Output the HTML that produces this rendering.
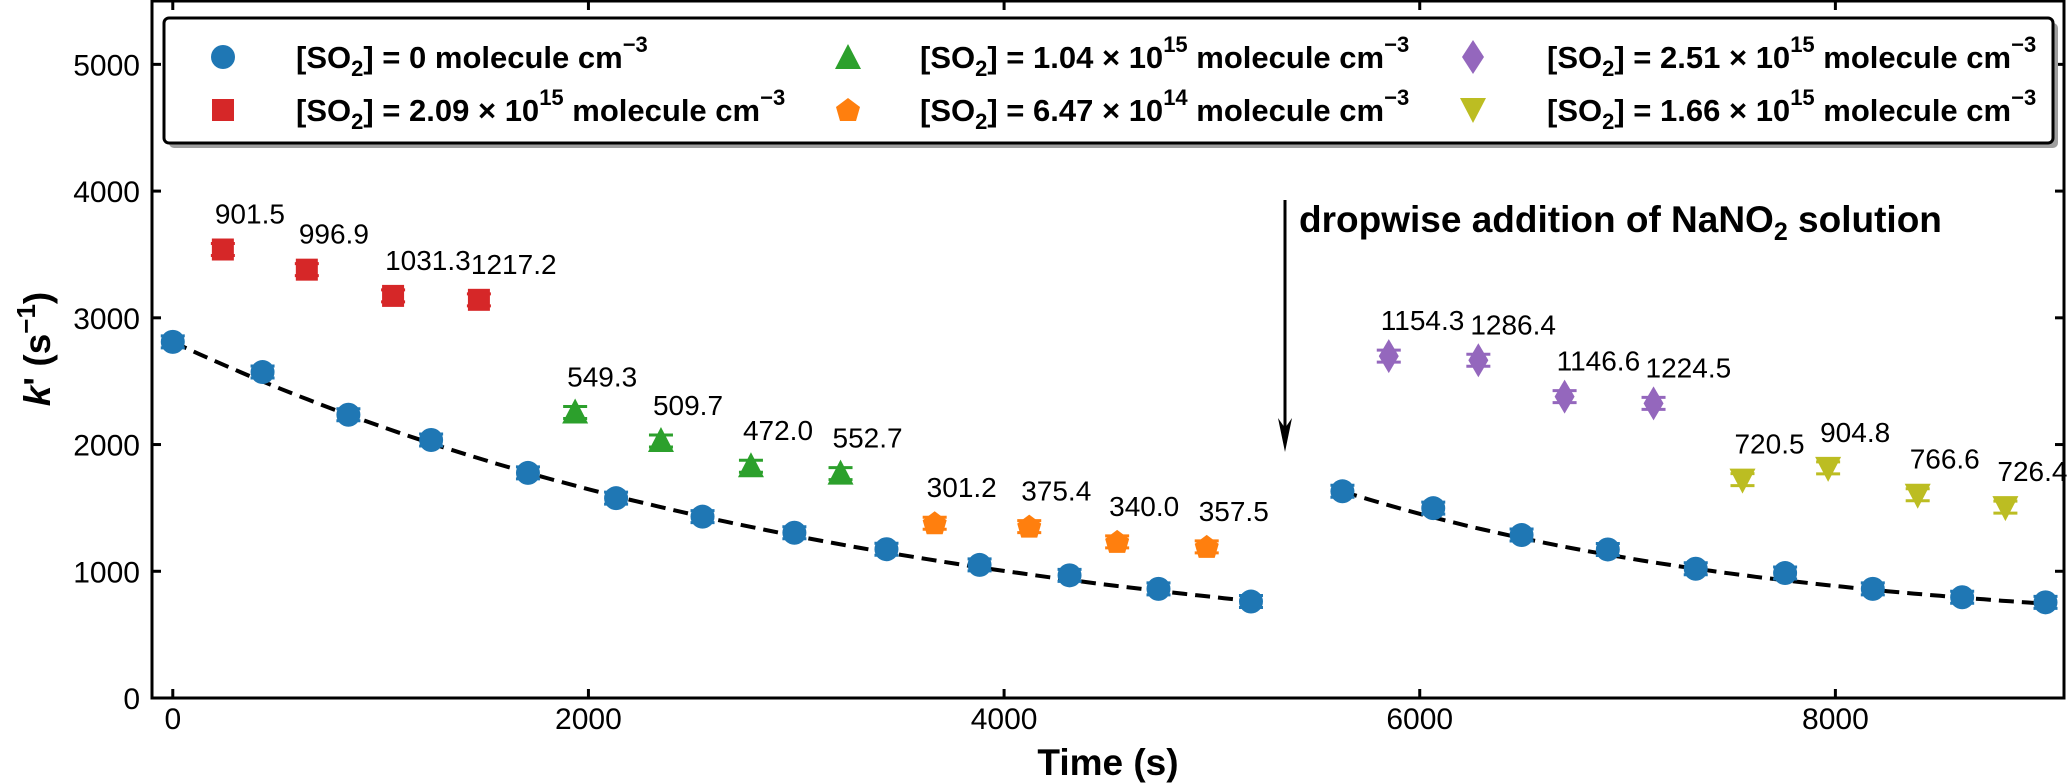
<!DOCTYPE html>
<html><head><meta charset="utf-8">
<style>
html,body{margin:0;padding:0;background:#fff;}
svg{display:block;font-family:"Liberation Sans",Arial,sans-serif;}
</style></head>
<body>
<svg id="chart" width="2067" height="783" viewBox="0 0 2067 783" xmlns="http://www.w3.org/2000/svg">
<rect x="0" y="0" width="2067" height="783" fill="#fff"/>
<g id="plot"></g>
<g id="axes"></g>
<g>
  <rect x="169" y="23" width="1889" height="125" rx="5" fill="#9e9e9e"/>
  <rect x="164" y="18" width="1889" height="125" rx="5" fill="#fff" stroke="#000" stroke-width="3"/>
  <g font-weight="bold" font-size="31">
    <circle cx="223" cy="57" r="12" fill="#1f77b4"/>
    <text x="296" y="68">[SO<tspan font-size="22" dy="8">2</tspan><tspan dy="-8">] = 0 molecule cm</tspan><tspan font-size="22" dy="-16">−3</tspan></text>
    <rect x="212" y="99" width="22" height="22" fill="#d62728"/>
    <text x="296" y="121">[SO<tspan font-size="22" dy="8">2</tspan><tspan dy="-8">] = 2.09 × 10</tspan><tspan font-size="22" dy="-16">15</tspan><tspan dy="16"> molecule cm</tspan><tspan font-size="22" dy="-16">−3</tspan></text>
    <polygon points="848,44 861,69 835,69" fill="#2ca02c"/>
    <text x="920" y="68">[SO<tspan font-size="22" dy="8">2</tspan><tspan dy="-8">] = 1.04 × 10</tspan><tspan font-size="22" dy="-16">15</tspan><tspan dy="16"> molecule cm</tspan><tspan font-size="22" dy="-16">−3</tspan></text>
    <polygon points="848,98 860,107 856,121 840,121 836,107" fill="#ff7f0e"/>
    <text x="920" y="121">[SO<tspan font-size="22" dy="8">2</tspan><tspan dy="-8">] = 6.47 × 10</tspan><tspan font-size="22" dy="-16">14</tspan><tspan dy="16"> molecule cm</tspan><tspan font-size="22" dy="-16">−3</tspan></text>
    <polygon points="1473,40 1484,57 1473,74 1462,57" fill="#9467bd"/>
    <text x="1547" y="68">[SO<tspan font-size="22" dy="8">2</tspan><tspan dy="-8">] = 2.51 × 10</tspan><tspan font-size="22" dy="-16">15</tspan><tspan dy="16"> molecule cm</tspan><tspan font-size="22" dy="-16">−3</tspan></text>
    <polygon points="1460,98 1486,98 1473,123" fill="#bcbd22"/>
    <text x="1547" y="121">[SO<tspan font-size="22" dy="8">2</tspan><tspan dy="-8">] = 1.66 × 10</tspan><tspan font-size="22" dy="-16">15</tspan><tspan dy="16"> molecule cm</tspan><tspan font-size="22" dy="-16">−3</tspan></text>
  </g>
</g>
<g>
  <line x1="1285" y1="200" x2="1285" y2="440" stroke="#000" stroke-width="3"/>
  <polygon points="1285,452 1278,418 1285,428 1292,418" fill="#000"/>
  <text x="1299" y="232" font-size="37" font-weight="bold">dropwise addition of NaNO<tspan font-size="25" dy="8">2</tspan><tspan dy="-8"> solution</tspan></text>
</g>
<text transform="translate(50,349) rotate(-90)" text-anchor="middle" font-size="37" font-weight="bold"><tspan font-style="italic">k</tspan>' (s<tspan font-size="26" dy="-15">−1</tspan><tspan dy="15">)</tspan></text>
<text x="1108" y="775" text-anchor="middle" font-size="37" font-weight="bold">Time (s)</text>
</svg>
<script>
const xTicks = [0, 2000, 4000, 6000, 8000];
const yTicks = [0, 1000, 2000, 3000, 4000, 5000];
const blueT = [0, 432, 845, 1243, 1709, 2133, 2549, 2991, 3434, 3882, 4315, 4743, 5188, 5628, 6065, 6490, 6905, 7328, 7758, 8180, 8610, 9011];
const blueK = [2810, 2572, 2235, 2036, 1776, 1577, 1431, 1304, 1174, 1050, 968, 861, 761, 1631, 1498, 1286, 1172, 1020, 986, 861, 795, 755];
const redT = [241, 645, 1060, 1473];
const redK = [3539, 3380, 3173, 3142];
const redLabels = ["901.5", "996.9", "1031.3", "1217.2"];
const greenT = [1936, 2349, 2782, 3213];
const greenK = [2253, 2028, 1829, 1771];
const greenLabels = ["549.3", "509.7", "472.0", "552.7"];
const orangeT = [3666, 4121, 4544, 4975];
const orangeK = [1379, 1352, 1232, 1193];
const orangeLabels = ["301.2", "375.4", "340.0", "357.5"];
const purpleT = [5851, 6282, 6697, 7125];
const purpleK = [2698, 2665, 2378, 2325];
const purpleLabels = ["1154.3", "1286.4", "1146.6", "1224.5"];
const yellowT = [7553, 7965, 8396, 8818];
const yellowK = [1723, 1816, 1604, 1506];
const yellowLabels = ["720.5", "904.8", "766.6", "726.4"];
// fit parameters: [t0, A, tau, C, tStart, tEnd]
const fitLeft = [0, 2610, 3393, 200, 0, 5188];
const fitRight = [5628, 1121, 2160, 510, 5628, 9011];

const NS = "http://www.w3.org/2000/svg";
const L = 152, R = 2064, T = 1, B = 698;
const XMIN = -100, XMAX = 9100, YMIN = 0, YMAX = 5500;
function xs(v){ return L + (v - XMIN) / (XMAX - XMIN) * (R - L); }
function ys(v){ return B - (v - YMIN) / (YMAX - YMIN) * (B - T); }
function mk(tag, attrs, parent){
  const e = document.createElementNS(NS, tag);
  for (const k in attrs) e.setAttribute(k, attrs[k]);
  parent.appendChild(e);
  return e;
}
const plot = document.getElementById('plot');
const axes = document.getElementById('axes');

function drawFit(p, name){
  let d = '';
  for (let i = 0; i <= 80; i++){
    const t = p[4] + (p[5] - p[4]) * i / 80;
    const k = p[1] * Math.exp(-(t - p[0]) / p[2]) + p[3];
    d += (i ? 'L' : 'M') + xs(t).toFixed(1) + ',' + ys(k).toFixed(1);
  }
  const path = mk('path', {d: d, fill: 'none', stroke: '#000', 'stroke-width': 4, 'stroke-dasharray': '15,8'}, plot);
  
  
}

function errbar(cx, cy, color, e){
  mk('line', {x1: cx, y1: cy - e, x2: cx, y2: cy + e, stroke: color, 'stroke-width': 3}, plot);
  mk('line', {x1: cx - 12, y1: cy - e, x2: cx + 12, y2: cy - e, stroke: color, 'stroke-width': 3}, plot);
  mk('line', {x1: cx - 12, y1: cy + e, x2: cx + 12, y2: cy + e, stroke: color, 'stroke-width': 3}, plot);
}

function drawSeries(T_, K_, labels, color, shape, name){
  for (let i = 0; i < T_.length; i++){
    const cx = xs(T_[i]), cy = ys(K_[i]);
    errbar(cx, cy, color, 6);
    let m;
    if (shape === 'circle') m = mk('circle', {cx: cx, cy: cy, r: 12, fill: color}, plot);
    else if (shape === 'square') m = mk('rect', {x: cx - 11, y: cy - 11, width: 22, height: 22, fill: color}, plot);
    else {
      let pts;
      if (shape === 'tri') pts = [[0,-14],[13,11],[-13,11]];
      else if (shape === 'tridown') pts = [[0,14],[13,-11],[-13,-11]];
      else if (shape === 'diamond') pts = [[0,-17],[10,0],[0,17],[-10,0]];
      else pts = [[0,-12],[12,-3],[8,11],[-8,11],[-12,-3]];
      m = mk('polygon', {points: pts.map(p => (cx + p[0]) + ',' + (cy + p[1])).join(' '), fill: color}, plot);
    }
    
    
    if (labels){
      const t = mk('text', {x: cx - 8, y: cy - 26, 'font-size': 28, fill: '#000'}, plot);
      t.textContent = labels[i];
      
      
    }
  }
}

drawFit(fitLeft, 'fit-curve-before-addition');
drawFit(fitRight, 'fit-curve-after-addition');
drawSeries(blueT, blueK, null, '#1f77b4', 'circle', 'so2-0');
drawSeries(redT, redK, redLabels, '#d62728', 'square', 'so2-2.09e15');
drawSeries(greenT, greenK, greenLabels, '#2ca02c', 'tri', 'so2-1.04e15');
drawSeries(orangeT, orangeK, orangeLabels, '#ff7f0e', 'pent', 'so2-6.47e14');
drawSeries(purpleT, purpleK, purpleLabels, '#9467bd', 'diamond', 'so2-2.51e15');
drawSeries(yellowT, yellowK, yellowLabels, '#bcbd22', 'tridown', 'so2-1.66e15');

const frame = mk('rect', {x: L, y: T, width: R - L, height: B - T, fill: 'none', stroke: '#000', 'stroke-width': 3}, axes);


xTicks.forEach(v => {
  const x = xs(v);
  mk('line', {x1: x, y1: B, x2: x, y2: B - 9, stroke: '#000', 'stroke-width': 3}, axes);
  mk('line', {x1: x, y1: T, x2: x, y2: T + 9, stroke: '#000', 'stroke-width': 3}, axes);
  const t = mk('text', {x: x, y: 729, 'font-size': 30, 'text-anchor': 'middle'}, axes);
  t.textContent = v;
  
  
});
yTicks.forEach(v => {
  const y = ys(v);
  mk('line', {x1: L, y1: y, x2: L + 9, y2: y, stroke: '#000', 'stroke-width': 3}, axes);
  mk('line', {x1: R, y1: y, x2: R - 9, y2: y, stroke: '#000', 'stroke-width': 3}, axes);
  const t = mk('text', {x: 140, y: y + 11, 'font-size': 30, 'text-anchor': 'end'}, axes);
  t.textContent = v;
  
  
});
</script>
</body></html>
